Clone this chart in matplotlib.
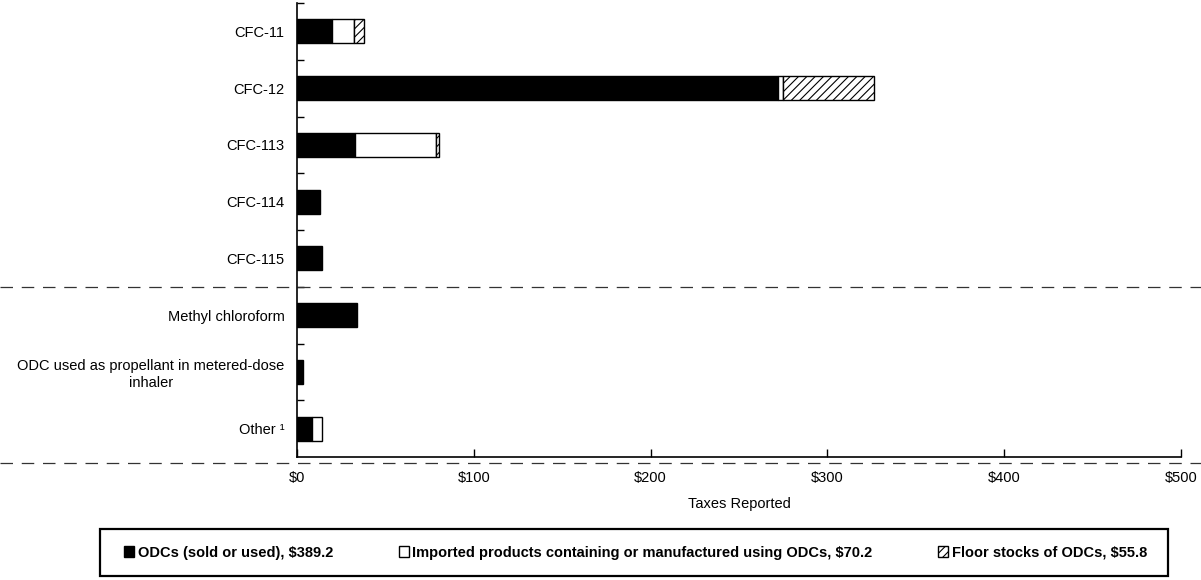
import matplotlib
matplotlib.use("Agg")
import matplotlib.pyplot as plt
import matplotlib.transforms as mtransforms
from matplotlib.patches import Rectangle
from matplotlib.ticker import FuncFormatter, FixedLocator
import numpy as np

plt.rcParams['font.family'] = ['Liberation Sans', 'DejaVu Sans']
plt.rcParams['hatch.linewidth'] = 0.8

categories = ["CFC-11", "CFC-12", "CFC-113", "CFC-114", "CFC-115",
              "Methyl chloroform",
              "ODC used as propellant in metered-dose\ninhaler",
              "Other \u00b9"]
odcs_sold = [19.6, 271.9, 32.8, 13.2, 14.4, 34.0, 3.4, 8.7]
imported = [12.6, 3.2, 45.6, 0.0, 0.0, 0.0, 0.0, 5.4]
floor_stocks = [5.7, 51.5, 1.9, 0.0, 0.0, 0.0, 0.0, 0.0]
series_labels = ["ODCs (sold or used), $389.2",
                 "Imported products containing or manufactured using ODCs, $70.2",
                 "Floor stocks of ODCs, $55.8"]
xticks = [0, 100, 200, 300, 400, 500]

W, H = 1201, 580
fig = plt.figure(figsize=(W/100, H/100), dpi=100)
ax = fig.add_axes([297/W, 1-457/H, (1181-297)/W, (457-3)/H])

y = np.arange(len(categories))
h = 0.42
odcs = np.array(odcs_sold)
imp = np.array(imported)
fl = np.array(floor_stocks)

ax.barh(y, odcs, height=h, color='black', edgecolor='black', linewidth=1, label=series_labels[0])
mask = imp > 0
ax.barh(y[mask], imp[mask], left=odcs[mask], height=h, color='white', edgecolor='black',
        linewidth=1, label=series_labels[1])
mask2 = fl > 0
ax.barh(y[mask2], fl[mask2], left=(odcs + imp)[mask2], height=h, color='white',
        edgecolor='black', hatch='////', linewidth=1, label=series_labels[2])

ax.set_xlim(0, 500)
ax.set_ylim(len(categories) - 0.5, -0.5)

ax.spines['top'].set_visible(False)
ax.spines['right'].set_visible(False)
ax.spines['left'].set_linewidth(1.2)
ax.spines['bottom'].set_linewidth(1.2)

ax.set_xticks(xticks)
ax.xaxis.set_major_formatter(FuncFormatter(lambda v, p: f"${int(v)}"))
ax.tick_params(axis='x', direction='in', length=6, width=1, pad=10, labelsize=10.5)

ax.set_yticks(y)
ax.set_yticklabels(categories)
ax.tick_params(axis='y', which='major', length=0, pad=9, labelsize=10.5)
for t in ax.get_yticklabels():
    t.set_multialignment('center')
ax.yaxis.set_minor_locator(FixedLocator(np.arange(-0.5, len(categories) - 0.5, 1.0)))
ax.tick_params(axis='y', which='minor', direction='in', length=5, width=1)

ax.set_xlabel("Taxes Reported", fontsize=10.5, labelpad=9)

trans = mtransforms.blended_transform_factory(fig.transFigure, ax.transData)
for yy in [4.5, 7.6]:
    ax.plot([0, 1], [yy, yy], transform=trans, clip_on=False, color='#333333',
            linewidth=0.9, dashes=(10, 7))

# legend frame
fig.add_artist(Rectangle((100/W, 1-576/H), 1068/W, 47/H, transform=fig.transFigure,
                         facecolor='none', edgecolor='black', linewidth=1.6))
leg = ax.legend(loc='center', bbox_to_anchor=(124/W, 1-576/H, (1147-124)/W, 47/H),
                bbox_transform=fig.transFigure, ncol=3, mode='expand', frameon=False,
                handlelength=0.7, handleheight=0.7, handletextpad=0.25,
                borderaxespad=0, borderpad=0,
                prop={'size': 10.5, 'weight': 'bold'})

fig.savefig("out.png", dpi=100)
